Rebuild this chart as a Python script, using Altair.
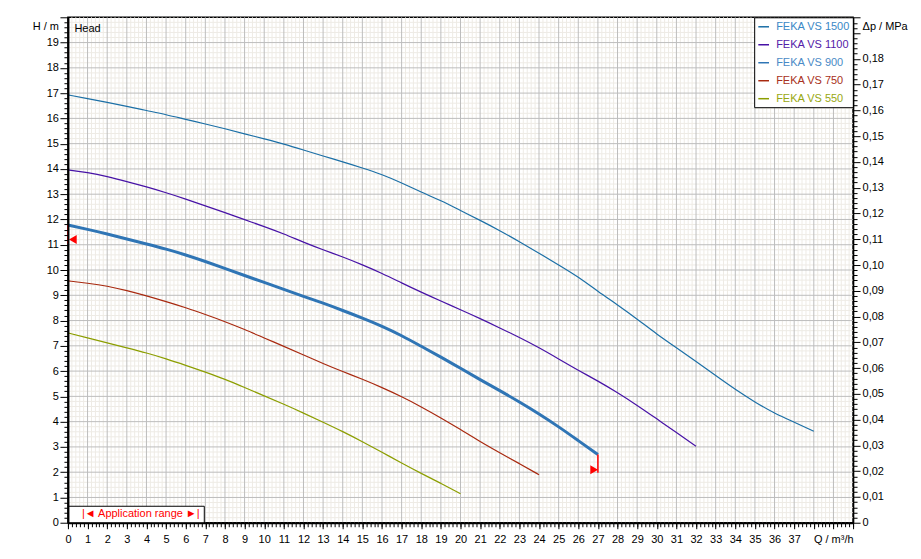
import altair as alt
import pandas as pd

# ---------------- data ----------------
series_names = ["FEKA VS 1500", "FEKA VS 1100", "FEKA VS 900", "FEKA VS 750", "FEKA VS 550"]
series_colors = ["#1b6fa6", "#4712a6", "#2f75b5", "#a8290f", "#8c9e00"]
label_colors = ["#3a88c6", "#5420a8", "#4a8ac6", "#a83020", "#98a810"]

q_1500 = list(range(0, 39))
h_1500 = [16.93, 16.78, 16.63, 16.48, 16.31, 16.15, 15.96, 15.78, 15.59, 15.39,
          15.19, 14.99, 14.75, 14.51, 14.28, 14.04, 13.78, 13.45, 13.08, 12.75,
          12.35, 11.97, 11.56, 11.12, 10.67, 10.20, 9.73, 9.15, 8.62, 8.06,
          7.46, 6.93, 6.38, 5.82, 5.27, 4.77, 4.33, 3.98, 3.62]

q_1100 = list(range(0, 33))
h_1100 = [13.96, 13.86, 13.70, 13.50, 13.29, 13.06, 12.81, 12.54, 12.27, 11.99,
          11.72, 11.43, 11.10, 10.80, 10.52, 10.21, 9.87, 9.49, 9.12, 8.77,
          8.43, 8.08, 7.71, 7.33, 6.93, 6.48, 6.03, 5.61, 5.15, 4.65,
          4.11, 3.57, 3.03]

q_900 = list(range(0, 28))
h_900 = [11.78, 11.61, 11.43, 11.23, 11.03, 10.83, 10.60, 10.34, 10.06, 9.78,
         9.51, 9.23, 8.96, 8.69, 8.40, 8.10, 7.78, 7.41, 6.98, 6.56,
         6.11, 5.66, 5.23, 4.78, 4.31, 3.80, 3.25, 2.70]

q_750 = list(range(0, 25))
h_750 = [9.57, 9.48, 9.37, 9.19, 8.98, 8.75, 8.51, 8.24, 7.96, 7.65,
         7.31, 6.98, 6.64, 6.30, 5.98, 5.68, 5.35, 4.99, 4.59, 4.15,
         3.69, 3.21, 2.77, 2.34, 1.90]

q_550 = list(range(0, 21))
h_550 = [7.51, 7.31, 7.12, 6.92, 6.72, 6.49, 6.23, 5.96, 5.68, 5.35,
         5.02, 4.69, 4.34, 3.98, 3.61, 3.21, 2.79, 2.36, 1.95, 1.56, 1.15]

# application range markers (on FEKA VS 900)
range_label = "|◄ Application range ►|"
marker_q = [0.25, 26.81]
marker_h = [11.21, 2.10]
marker_shape = ["triangle-left", "triangle-right"]
range_q = [0, 27]
range_h_top = [11.78, 2.70]
range_h_bottom = [11.05, 1.98]

# axis tick values
Q_MAX = 40
H_MAX = 20
M_TO_MPA = 0.00980665
x_ticks_minor = [i / 5 for i in range(0, 201)]
x_ticks_major = list(range(0, 41))
x_labels = list(range(0, 38))
y_ticks = [i / 5 for i in range(0, 101)]
p_ticks = [round(i * 0.002, 3) for i in range(0, 99)]
minor_x = [i / 5 for i in range(1, 200) if i % 5 != 0]
major_x = list(range(1, 40))
minor_y = [i / 5 for i in range(1, 100) if i % 5 != 0]
major_y = list(range(1, 20))

# ---------------- tables ----------------
rows = []
for name, qs, hs in zip(series_names, [q_1500, q_1100, q_900, q_750, q_550],
                        [h_1500, h_1100, h_900, h_750, h_550]):
    for q, h in zip(qs, hs):
        rows.append({"series": name, "Q": q, "H": h, "p": h * M_TO_MPA})
curves = pd.DataFrame(rows)

markers = pd.DataFrame({"Q": marker_q, "H": marker_h, "shape": marker_shape,
                        "rng": [range_label] * 2})
range_lines = pd.DataFrame({"Q": range_q, "H": range_h_top, "H2": range_h_bottom})

FONT = "Liberation Sans"
xs = alt.Scale(domain=[0, Q_MAX], nice=False, zero=False)
ys = alt.Scale(domain=[0, H_MAX], nice=False, zero=False)
ps = alt.Scale(domain=[0, H_MAX * M_TO_MPA], nice=False, zero=False)

# bottom axis: minor ticks, major ticks, labels (three axes on one shared scale)
x_axis_minor = alt.Axis(
    orient="bottom", values=x_ticks_minor, title=None, grid=False, zindex=2,
    labels=False, tickSize=4, tickColor="black",
    domain=True, domainColor="black", domainWidth=2,
)
x_axis_major = alt.Axis(
    orient="bottom", values=x_ticks_major, title=None, grid=False, zindex=2,
    labels=False, tickSize=6, tickColor="black", domain=False,
)
x_axis_labels = alt.Axis(
    orient="bottom", values=x_labels, format="d", grid=False, zindex=2,
    ticks=False, domain=False, labelPadding=11,
    labelFlush=False, labelOverlap=False, labelBound=False,
    labelFont=FONT, labelFontSize=11, labelColor="black",
    title="Q / m³/h", titleX=786, titleY=17, titleAlign="right",
    titleBaseline="middle", titleAngle=0, titleFont=FONT, titleFontSize=11,
    titleFontWeight="normal", titleColor="black",
)
y_axis = alt.Axis(
    values=y_ticks, grid=False, zindex=2,
    labelExpr="datum.value >= 19.99 ? 'H / m' : (datum.value % 1 == 0 ? format(datum.value, '.0f') : '')",
    tickSize=alt.ExprRef("datum.value % 1 == 0 ? 8 : 4"),
    labelBaseline=alt.ExprRef("datum.value >= 19.99 ? 'top' : 'middle'"),
    labelOffset=alt.ExprRef("datum.value >= 19.99 ? 3 : 0"),
    labelFlush=False, labelOverlap=False, labelBound=False, labelPadding=1.5,
    tickColor="black", domainColor="black", domainWidth=2,
    labelFont=FONT, labelFontSize=11, labelColor="black",
    title="Head", titleAngle=0, titleX=6, titleY=11, titleAlign="left",
    titleBaseline="middle", titleFont=FONT, titleFontSize=11,
    titleFontWeight="normal", titleColor="black",
)
p_axis = alt.Axis(
    orient="right", values=p_ticks, title=None, grid=False, zindex=2,
    labelExpr="datum.value >= 0.1955 ? 'Δp / MPa' : ((round(datum.value * 1000) % 10 == 0 && datum.value < 0.185) ? (datum.value == 0 ? '0' : replace(format(datum.value, '.2f'), '.', ',')) : '')",
    tickSize=alt.ExprRef("(round(datum.value * 1000) % 10 == 0 || datum.value >= 0.1955) ? 7 : 4"),
    labelBaseline=alt.ExprRef("datum.value >= 0.1955 ? 'top' : 'middle'"),
    labelOffset=alt.ExprRef("datum.value >= 0.1955 ? 3 : 0"),
    labelFlush=False, labelOverlap=False, labelBound=False, labelPadding=2,
    tickColor="black", domainColor="black", domainWidth=1.5,
    labelFont=FONT, labelFontSize=11, labelColor="black",
)

# ---------------- grid ----------------
MINOR = "#eeebe5"
MAJOR = "#bdbdbd"

vgrid_minor = alt.Chart(pd.DataFrame({"v": minor_x})).mark_rule(color=MINOR, strokeWidth=1).encode(
    x=alt.X("v:Q", scale=xs, axis=x_axis_minor))
hgrid_minor = alt.Chart(pd.DataFrame({"v": minor_y})).mark_rule(color=MINOR, strokeWidth=1).encode(
    y=alt.Y("v:Q", scale=ys, axis=None))
vgrid_major = alt.Chart(pd.DataFrame({"v": major_x})).mark_rule(color=MAJOR, strokeWidth=1).encode(
    x=alt.X("v:Q", scale=xs, axis=x_axis_major))
hgrid_major = alt.Chart(pd.DataFrame({"v": major_y})).mark_rule(color=MAJOR, strokeWidth=1).encode(
    y=alt.Y("v:Q", scale=ys, axis=None))

# ---------------- curves ----------------
color_expr = " : ".join(
    [f"datum.value == '{n}' ? '{c}'" for n, c in zip(series_names, label_colors)]
) + " : 'black'"

lines = alt.Chart(curves).mark_line(interpolate="basis").encode(
    x=alt.X("Q:Q", scale=xs, axis=x_axis_labels),
    y=alt.Y("H:Q", scale=ys, axis=y_axis),
    color=alt.Color(
        "series:N",
        scale=alt.Scale(domain=series_names, range=series_colors),
        sort=series_names,
        legend=alt.Legend(
            title=None, orient="top-right", offset=0,
            fillColor="white", strokeColor="black", padding=3,
            symbolType="stroke", symbolSize=115, symbolStrokeWidth=1.5,
            labelFont=FONT, labelFontSize=11, labelOffset=6,
            labelColor=alt.ExprRef(color_expr),
            rowPadding=6,
        ),
    ),
    strokeWidth=alt.condition(alt.datum.series == "FEKA VS 900", alt.value(3), alt.value(1.2)),
    order=alt.Order("Q:Q"),
)

range_rule = alt.Chart(range_lines).mark_rule(color="#ff0000", strokeWidth=1.5).encode(
    x=alt.X("Q:Q", scale=xs, axis=None),
    y=alt.Y("H:Q", scale=ys, axis=None),
    y2="H2:Q",
)

range_marks = alt.Chart(markers).mark_point(filled=True, size=80, opacity=1).encode(
    x=alt.X("Q:Q", scale=xs, axis=None),
    y=alt.Y("H:Q", scale=ys, axis=None),
    shape=alt.Shape("shape:N", scale=None),
    fill=alt.Fill(
        "rng:N",
        scale=alt.Scale(range=["#ff0000"]),
        legend=alt.Legend(
            title=None, orient="bottom-left", offset=0,
            fillColor="white", strokeColor="black", padding=3,
            symbolOpacity=0, symbolSize=0, labelOffset=0,
            labelFont=FONT, labelFontSize=11, labelColor="#ff0000",
        ),
    ),
)

right = alt.Chart(curves).mark_line(opacity=0).encode(
    x=alt.X("Q:Q", scale=xs, axis=None),
    y=alt.Y("p:Q", scale=ps, axis=p_axis),
    detail="series:N",
)

chart = alt.layer(
    vgrid_minor, hgrid_minor, vgrid_major, hgrid_major,
    lines, range_rule, range_marks, right,
).resolve_scale(y="independent").resolve_axis(x="independent").properties(
    width=786,
    height=506,
    autosize=alt.AutoSizeParams(type="none"),
    padding={"left": 60, "top": 9, "right": 60, "bottom": 30},
).configure_view(stroke="black", strokeWidth=1.5)

chart.save("out.html", embed_options={"renderer": "svg", "actions": False})
